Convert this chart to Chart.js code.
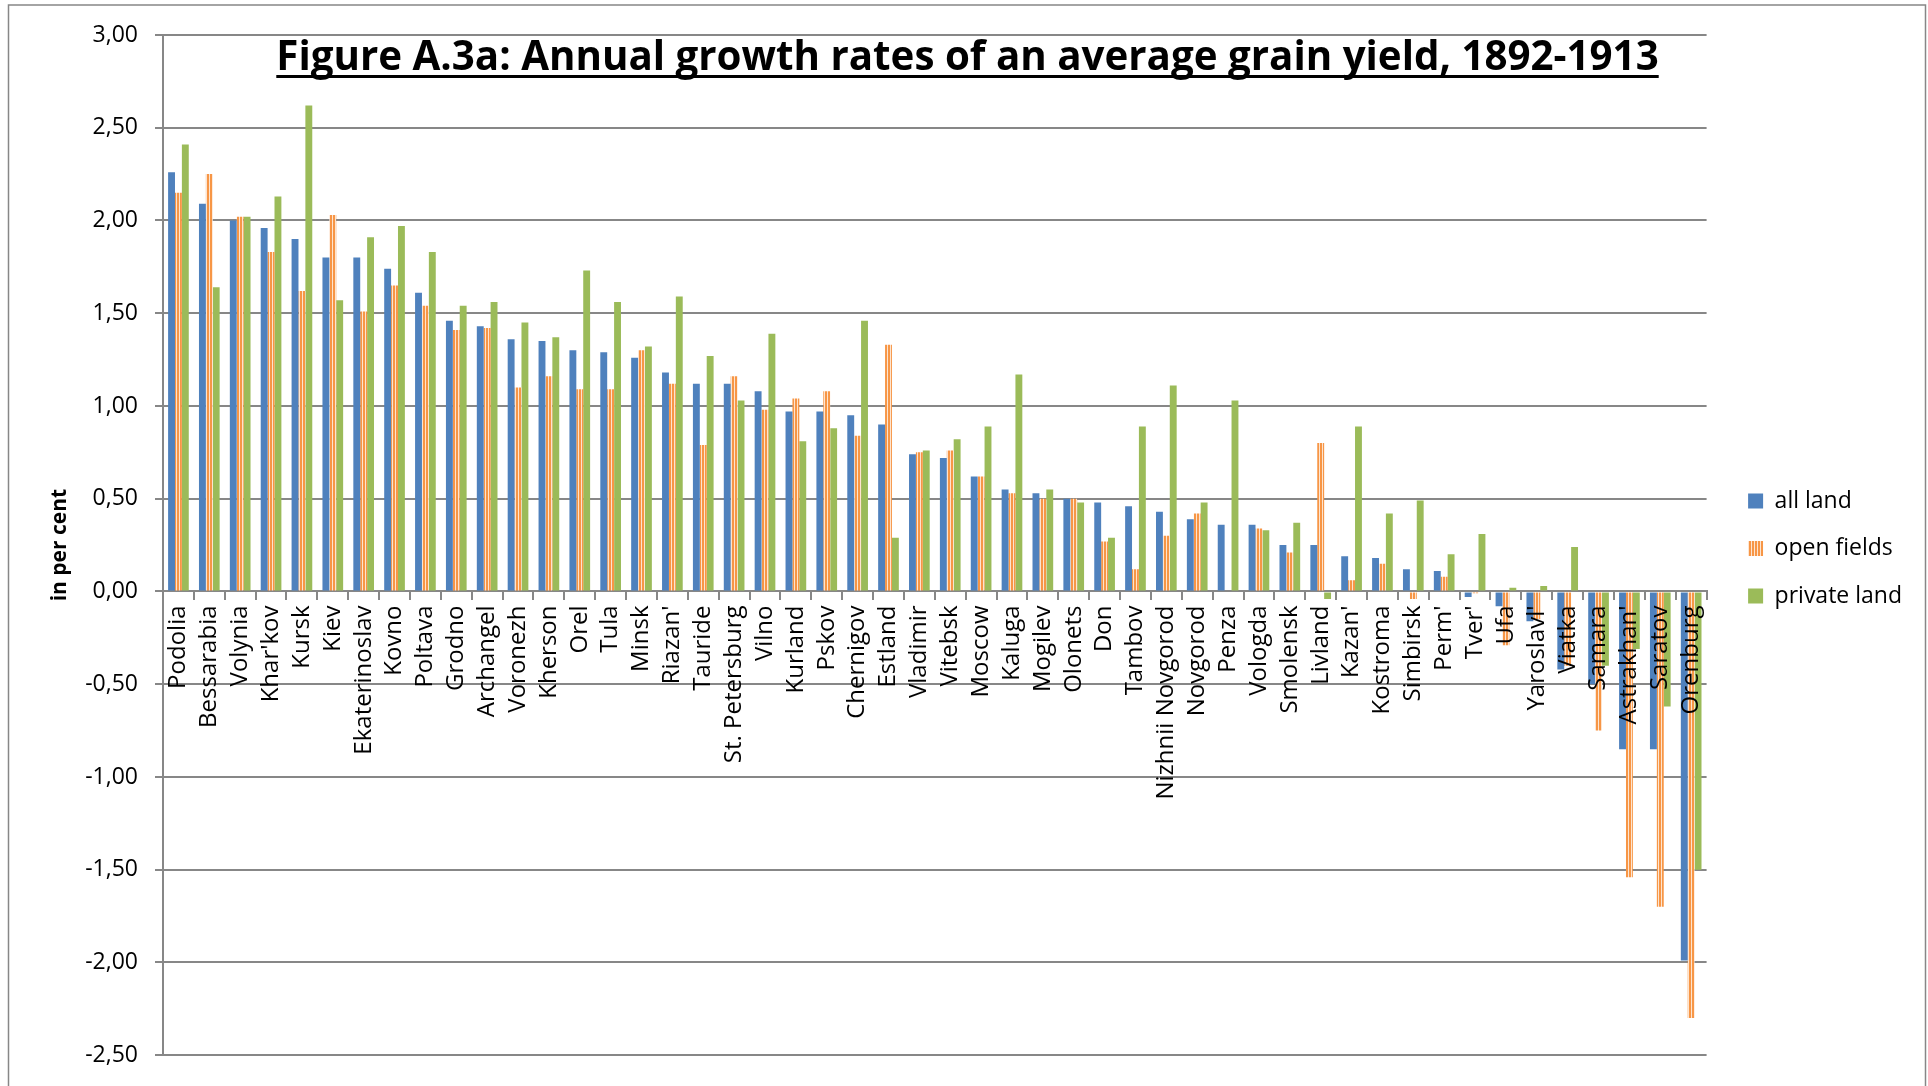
<!DOCTYPE html>
<html>
<head>
<meta charset="utf-8">
<script src="https://cdn.jsdelivr.net/npm/chart.js@4.4.0/dist/chart.umd.min.js"></script>
<style>
    html, body { margin: 0; padding: 0; background: #fff; }
</style>
</head>
<body>
<canvas id="grainChart" width="1928" height="1086"></canvas>
<script>
const provinces = ['Podolia', 'Bessarabia', 'Volynia', "Khar'kov", 'Kursk', 'Kiev', 'Ekaterinoslav', 'Kovno', 'Poltava', 'Grodno',
    'Archangel', 'Voronezh', 'Kherson', 'Orel', 'Tula', 'Minsk', "Riazan'", 'Tauride', 'St. Petersburg', 'Vilno',
    'Kurland', 'Pskov', 'Chernigov', 'Estland', 'Vladimir', 'Vitebsk', 'Moscow', 'Kaluga', 'Mogilev', 'Olonets',
    'Don', 'Tambov', 'Nizhnii Novgorod', 'Novgorod', 'Penza', 'Vologda', 'Smolensk', 'Livland', "Kazan'", 'Kostroma',
    'Simbirsk', "Perm'", "Tver'", 'Ufa', "Yaroslavl'", 'Viatka', 'Samara', "Astrakhan'", 'Saratov', 'Orenburg'];

const allLand = [2.26, 2.09, 2.00, 1.96, 1.90, 1.80, 1.80, 1.74, 1.61, 1.46,
    1.43, 1.36, 1.35, 1.30, 1.29, 1.26, 1.18, 1.12, 1.12, 1.08,
    0.97, 0.97, 0.95, 0.90, 0.74, 0.72, 0.62, 0.55, 0.53, 0.50,
    0.48, 0.46, 0.43, 0.39, 0.36, 0.36, 0.25, 0.25, 0.19, 0.18,
    0.12, 0.11, -0.03, -0.08, -0.16, -0.42, -0.50, -0.85, -0.85, -1.99];

const openFields = [2.15, 2.25, 2.02, 1.83, 1.62, 2.03, 1.51, 1.65, 1.54, 1.41,
    1.42, 1.10, 1.16, 1.09, 1.09, 1.30, 1.12, 0.79, 1.16, 0.98,
    1.04, 1.08, 0.84, 1.33, 0.75, 0.76, 0.62, 0.53, 0.50, 0.50,
    0.27, 0.12, 0.30, 0.42, 0.00, 0.34, 0.21, 0.80, 0.06, 0.15,
    -0.04, 0.08, -0.01, -0.29, -0.15, -0.40, -0.75, -1.54, -1.70, -2.30];

const privateLand = [2.41, 1.64, 2.02, 2.13, 2.62, 1.57, 1.91, 1.97, 1.83, 1.54,
    1.56, 1.45, 1.37, 1.73, 1.56, 1.32, 1.59, 1.27, 1.03, 1.39,
    0.81, 0.88, 1.46, 0.29, 0.76, 0.82, 0.89, 1.17, 0.55, 0.48,
    0.29, 0.89, 1.11, 0.48, 1.03, 0.33, 0.37, -0.04, 0.89, 0.42,
    0.49, 0.20, 0.31, 0.02, 0.03, 0.24, -0.40, -0.31, -0.62, -1.50];

const seriesNames = ['all land', 'open fields', 'private land'];
const chartTitle = 'Figure A.3a: Annual growth rates of an average grain yield, 1892-1913';
const yAxisTitle = 'in per cent';

const gridGray = '#878787';
const fontFamily = '"Open Sans", "DejaVu Sans", sans-serif';

// vertical orange stripes for the "open fields" series
function makeStripes() {
    const c = document.createElement('canvas');
    c.width = 3;
    c.height = 4;
    const g = c.getContext('2d');
    g.fillStyle = '#F79646';
    g.fillRect(0, 0, 2, 4);
    g.fillStyle = '#FDE4CF';
    g.fillRect(2, 0, 1, 4);
    return g.createPattern(c, 'repeat');
}

const frameAndTitle = {
    id: 'frameAndTitle',
    beforeDraw(chart) {
        const ctx = chart.ctx;
        ctx.save();
        ctx.strokeStyle = gridGray;
        ctx.lineWidth = 1.5;
        ctx.strokeRect(8.5, 5, 1917, 1200);
        ctx.restore();
    },
    afterLayout(chart) {
        // nudge legend a little to the right, like the original
        chart.legend.left += 17;
        chart.legend.right += 17;
    },
    afterDraw(chart) {
        const ctx = chart.ctx;
        ctx.save();
        ctx.font = 'bold 40px ' + fontFamily;
        const size = 40 * 1383 / ctx.measureText(chartTitle).width;
        ctx.font = 'bold ' + size.toFixed(1) + 'px ' + fontFamily;
        const w = ctx.measureText(chartTitle).width;
        const cx = 967.5;
        ctx.fillStyle = '#000';
        ctx.textAlign = 'center';
        ctx.textBaseline = 'alphabetic';
        ctx.fillText(chartTitle, cx, 70);
        ctx.fillRect(cx - w / 2, 75, w, 3);
        ctx.restore();
    }
};

const ctx = document.getElementById('grainChart').getContext('2d');

new Chart(ctx, {
    type: 'bar',
    data: {
        labels: provinces,
        datasets: [
            { label: seriesNames[0], data: allLand, backgroundColor: '#4F81BD' },
            { label: seriesNames[1], data: openFields, backgroundColor: makeStripes() },
            { label: seriesNames[2], data: privateLand, backgroundColor: '#9BBB59' }
        ]
    },
    options: {
        responsive: false,
        animation: false,
        devicePixelRatio: 1,
        datasets: {
            bar: {
                categoryPercentage: 0.67,
                barPercentage: 1.0,
                borderWidth: 0
            }
        },
        layout: {
            padding: { left: 10, top: 35, bottom: 24, right: 33 }
        },
        plugins: {
            legend: {
                position: 'right',
                align: 'center',
                labels: {
                    boxWidth: 15,
                    boxHeight: 15,
                    padding: 24.5,
                    color: '#000',
                    font: { family: fontFamily, size: 23 }
                }
            },
            tooltip: { enabled: false }
        },
        scales: {
            x: {
                position: { y: 0 },
                grid: {
                    offset: true,
                    drawOnChartArea: false,
                    drawTicks: true,
                    tickLength: 8,
                    color: gridGray,
                    lineWidth: 2
                },
                border: { display: true, color: gridGray, width: 2 },
                ticks: {
                    z: 1,
                    autoSkip: false,
                    minRotation: 90,
                    maxRotation: 90,
                    padding: 6,
                    color: '#000',
                    font: { family: fontFamily, size: 24 }
                }
            },
            y: {
                min: -2.5,
                max: 3,
                afterFit(scale) {
                    scale.width = 153;
                },
                grid: {
                    color: gridGray,
                    lineWidth: 2,
                    tickLength: 8
                },
                border: { display: true, color: gridGray, width: 2 },
                ticks: {
                    stepSize: 0.5,
                    padding: 17,
                    color: '#000',
                    font: { family: fontFamily, size: 23 },
                    callback: v => v.toFixed(2).replace('.', ',')
                },
                title: {
                    display: true,
                    text: yAxisTitle,
                    color: '#000',
                    padding: { top: 37, bottom: 0 },
                    font: { family: fontFamily, size: 21, weight: 'bold' }
                }
            }
        }
    },
    plugins: [frameAndTitle]
});
</script>
</body>
</html>
